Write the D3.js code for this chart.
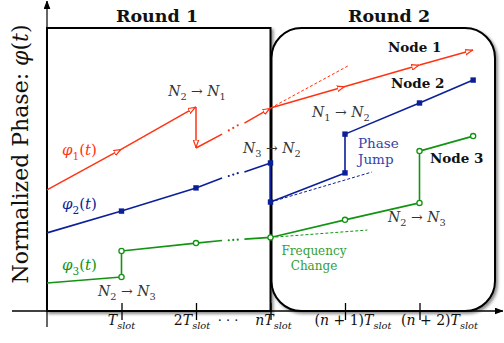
<!DOCTYPE html>
<html>
<head>
<meta charset="utf-8">
<script src="https://cdn.jsdelivr.net/npm/d3@7"></script>
<style>
  body { margin: 0; background: #fff; }
  svg { display: block; }
  text { font-family: "DejaVu Serif", "Liberation Serif", serif; }
</style>
</head>
<body>
<div class="chart"></div>
<script>
// time axis in slots (n is drawn as slot 3), phase in percent of the frame
var tickVals = [1, 2, 3, 4, 5];
var tickLabels = [
    [["T", "i"], ["slot", "si"]],
    [["2", ""], ["T", "i"], ["slot", "si"]],
    [["n", "i"], ["T", "i"], ["slot", "si"]],
    [["(", ""], ["n", "i"], [" + 1)", ""], ["T", "i"], ["slot", "si"]],
    [["(", ""], ["n", "i"], [" + 2)", ""], ["T", "i"], ["slot", "si"]]
];

// node 1 (red), every segment ends with an arrow
var red1 = [[0, 42.8], [1, 57.2], [2, 72.1], [2, 57.6], [2.35, 62.5]];
var red2 = [[2.65, 66.4], [3, 71.7], [4, 79.3], [5, 86.9], [5.72, 92.2]];
var redDashed = [[3, 71.7], [4.04, 86.6]];
var redDots = [[2.44, 63.8], [2.5, 64.7], [2.56, 65.6]];

// node 2 (blue), squares
var blue1 = [[0, 27.6], [1, 35.3], [2, 43.5], [2.35, 47.0]];
var blue2 = [[2.65, 49.1], [3, 52.3], [3, 38.5], [4, 48.8], [4, 62.5], [5, 73.5], [5.72, 81.6]];
var blueDashed = [[3, 38.5], [4.36, 49.1]];
var blueDots = [[2.44, 47.7], [2.5, 48.2], [2.56, 48.7]];

// node 3 (green), circles
var green1 = [[0, 9.9], [1, 12.0], [1, 21.2], [2, 24.0], [2.35, 24.9]];
var green2 = [[2.65, 25.4], [3, 26.0], [4, 32.2], [5, 38.2], [5, 56.5], [5.72, 61.8]];
var greenDashed = [[3, 26.0], [4.3, 28.6]];
var greenDots = [[2.44, 25.0], [2.5, 25.1], [2.56, 25.2]];

var RED = "#ff3312", BLUE = "#0b1f99", GREEN = "#129412";

var width = 504, height = 343;

var svg = d3.select(".chart").append("svg")
    .attr("width", width)
    .attr("height", height);

var x = d3.scaleLinear().domain([0, 6]).range([47, 494]);
var y = d3.scaleLinear().domain([0, 100]).range([311, 28]);

var defs = svg.append("defs");

var shadow = defs.append("filter").attr("id", "shadow")
    .attr("x", "-5%").attr("y", "-5%").attr("width", "115%").attr("height", "115%");
shadow.append("feDropShadow")
    .attr("dx", 2).attr("dy", 2).attr("stdDeviation", 1.5)
    .attr("flood-color", "#000").attr("flood-opacity", 0.45);

function arrowMarker(id, color, fill, len, wid) {
    defs.append("marker")
        .attr("id", id)
        .attr("markerUnits", "userSpaceOnUse")
        .attr("viewBox", "0 -" + wid + " " + len + " " + (2 * wid))
        .attr("refX", len).attr("refY", 0)
        .attr("markerWidth", len).attr("markerHeight", 2 * wid)
        .attr("orient", "auto")
        .append("path")
        .attr("d", "M0," + (-wid + 0.8) + "L" + (len - 0.8) + ",0L0," + (wid - 0.8) + "Z")
        .attr("fill", fill)
        .attr("stroke", color)
        .attr("stroke-width", 1.2)
        .attr("stroke-linejoin", "miter");
}
arrowMarker("redArrow", RED, "#fff", 8, 3.5);
arrowMarker("axisArrow", "#000", "#000", 8, 3.5);

// round boxes
svg.append("rect")
    .attr("x", x(0)).attr("y", y(100))
    .attr("width", x(3) - x(0)).attr("height", y(0) - y(100))
    .attr("fill", "#fff").attr("stroke", "#000").attr("stroke-width", 2)
    .attr("filter", "url(#shadow)");

svg.append("rect")
    .attr("x", x(3) + 1).attr("y", y(100))
    .attr("width", x(6) - x(3)).attr("height", y(0) - y(100))
    .attr("rx", 30).attr("ry", 30)
    .attr("fill", "#fff").attr("stroke", "#000").attr("stroke-width", 2)
    .attr("filter", "url(#shadow)");

svg.append("text").attr("x", 157).attr("y", 22)
    .attr("text-anchor", "middle").attr("font-weight", "bold")
    .attr("font-size", 17.5).attr("fill", "#111").text("Round 1");
svg.append("text").attr("x", 389).attr("y", 22)
    .attr("text-anchor", "middle").attr("font-weight", "bold")
    .attr("font-size", 17.5).attr("fill", "#111").text("Round 2");

// axes
var xAxis = d3.axisBottom(x)
    .tickValues(tickVals)
    .tickFormat("")
    .tickSizeOuter(0);

var axisG = svg.append("g")
    .attr("transform", "translate(0," + y(0) + ")")
    .call(xAxis);
axisG.select(".domain").remove();
axisG.selectAll(".tick line")
    .attr("y1", -8).attr("y2", 9)
    .attr("stroke", "#000").attr("stroke-width", 1.3);

svg.append("line")
    .attr("x1", 12).attr("x2", 503)
    .attr("y1", y(0)).attr("y2", y(0))
    .attr("stroke", "#000").attr("stroke-width", 1.3)
    .attr("marker-end", "url(#axisArrow)");

svg.append("line")
    .attr("x1", x(0)).attr("x2", x(0))
    .attr("y1", 327).attr("y2", 1)
    .attr("stroke", "#000").attr("stroke-width", 1.2)
    .attr("marker-end", "url(#axisArrow)");

// text with italic letters and subscripts
function mathText(parent, px, py, parts, size, color, anchor) {
    var t = parent.append("text")
        .attr("x", px).attr("y", py)
        .attr("font-size", size)
        .attr("fill", color)
        .attr("text-anchor", anchor || "start");
    var lowered = false;
    parts.forEach(function(p) {
        var sub = p[1].indexOf("s") >= 0;
        var span = t.append("tspan").text(p[0]);
        if (p[1].indexOf("i") >= 0) span.attr("font-style", "italic");
        if (sub) {
            span.attr("font-size", size * 0.7);
            if (!lowered) span.attr("dy", size * 0.3);
            lowered = true;
        } else if (lowered) {
            span.attr("dy", -size * 0.3);
            lowered = false;
        }
    });
    t.style("white-space", "pre");
    return t;
}

var labelShift = [0, -4, 3, 8, 20];
tickVals.forEach(function(v, i) {
    mathText(svg, x(v) + labelShift[i], 325, tickLabels[i], 14, "#111", "middle");
});
svg.append("text").attr("x", 228).attr("y", 325)
    .attr("text-anchor", "middle").attr("font-size", 13).attr("fill", "#111")
    .text("· · ·");

var line = d3.line().x(function(d) { return x(d[0]); }).y(function(d) { return y(d[1]); });

function segments(pts) {
    var out = [];
    for (var i = 1; i < pts.length; i++) out.push([pts[i - 1], pts[i]]);
    return out;
}

function drawDots(pts, color) {
    svg.selectAll(null).data(pts).enter().append("circle")
        .attr("cx", function(d) { return x(d[0]); })
        .attr("cy", function(d) { return y(d[1]); })
        .attr("r", 1.1)
        .attr("fill", color);
}

function drawDashed(pts, color) {
    svg.append("path").attr("d", line(pts))
        .attr("fill", "none").attr("stroke", color)
        .attr("stroke-width", 1).attr("stroke-dasharray", "3,2");
}

// dashed continuations first so solid lines sit on top
drawDashed(redDashed, RED);
drawDashed(blueDashed, BLUE);
drawDashed(greenDashed, GREEN);

// node 1
var redSegs = segments(red1);
svg.selectAll(null).data(redSegs).enter().append("path")
    .attr("d", line)
    .attr("fill", "none").attr("stroke", RED).attr("stroke-width", 1.5)
    .attr("marker-end", function(d, i) { return i < redSegs.length - 1 ? "url(#redArrow)" : null; });
svg.selectAll(null).data(segments(red2)).enter().append("path")
    .attr("d", line)
    .attr("fill", "none").attr("stroke", RED).attr("stroke-width", 1.5)
    .attr("marker-end", "url(#redArrow)");
drawDots(redDots, RED);

// node 2
[blue1, blue2].forEach(function(pts) {
    svg.append("path").attr("d", line(pts))
        .attr("fill", "none").attr("stroke", BLUE).attr("stroke-width", 1.6)
        .attr("stroke-linejoin", "round");
});
var blueMarks = blue1.slice(1, -1).concat(blue2.slice(1));
svg.selectAll(null).data(blueMarks).enter().append("rect")
    .attr("x", function(d) { return x(d[0]) - 2.7; })
    .attr("y", function(d) { return y(d[1]) - 2.7; })
    .attr("width", 5.4).attr("height", 5.4)
    .attr("fill", BLUE);
drawDots(blueDots, BLUE);

// node 3
[green1, green2].forEach(function(pts) {
    svg.append("path").attr("d", line(pts))
        .attr("fill", "none").attr("stroke", GREEN).attr("stroke-width", 1.6)
        .attr("stroke-linejoin", "round");
});
var greenMarks = green1.slice(1, -1).concat(green2.slice(1));
svg.selectAll(null).data(greenMarks).enter().append("circle")
    .attr("cx", function(d) { return x(d[0]); })
    .attr("cy", function(d) { return y(d[1]); })
    .attr("r", 2.6)
    .attr("fill", "#fff").attr("stroke", GREEN).attr("stroke-width", 1.3);
drawDots(greenDots, GREEN);

// series labels
mathText(svg, 62, 155, [["φ", "i"], ["1", "s"], ["(", ""], ["t", "i"], [")", ""]], 15, RED);
mathText(svg, 62, 209, [["φ", "i"], ["2", "s"], ["(", ""], ["t", "i"], [")", ""]], 15, BLUE);
mathText(svg, 62, 270, [["φ", "i"], ["3", "s"], ["(", ""], ["t", "i"], [")", ""]], 15, GREEN);

var bold = [["Node 1", 388, 52], ["Node 2", 391, 88], ["Node 3", 430, 163]];
bold.forEach(function(b) {
    svg.append("text").attr("x", b[1]).attr("y", b[2])
        .attr("font-size", 13.5).attr("font-weight", "bold").attr("fill", "#111")
        .text(b[0]);
});

// transfers between nodes
function transfer(a, b, px, py, anchor) {
    mathText(svg, px, py, [["N", "i"], [a, "s"], [" → ", ""], ["N", "i"], [b, "s"]], 14, "#333", anchor);
}
transfer("2", "1", 197, 96, "middle");
transfer("3", "2", 243, 153);
transfer("1", "2", 312, 117);
transfer("2", "3", 388, 222);
transfer("2", "3", 98, 296);

svg.append("text").attr("x", 358).attr("y", 148)
    .attr("font-size", 13.5).attr("fill", "#3344aa").text("Phase");
svg.append("text").attr("x", 358).attr("y", 164)
    .attr("font-size", 13.5).attr("fill", "#3344aa").text("Jump");
svg.append("text").attr("x", 314).attr("y", 255).attr("text-anchor", "middle")
    .attr("font-size", 12).attr("fill", "#33a033").text("Frequency");
svg.append("text").attr("x", 314).attr("y", 270).attr("text-anchor", "middle")
    .attr("font-size", 12).attr("fill", "#33a033").text("Change");

// y label
mathText(svg.append("g").attr("transform", "translate(28,154) rotate(-90)"), 0, 0,
    [["Normalized Phase: ", ""], ["φ", "i"], ["(", ""], ["t", "i"], [")", ""]], 22, "#111", "middle");
</script>
</body>
</html>
